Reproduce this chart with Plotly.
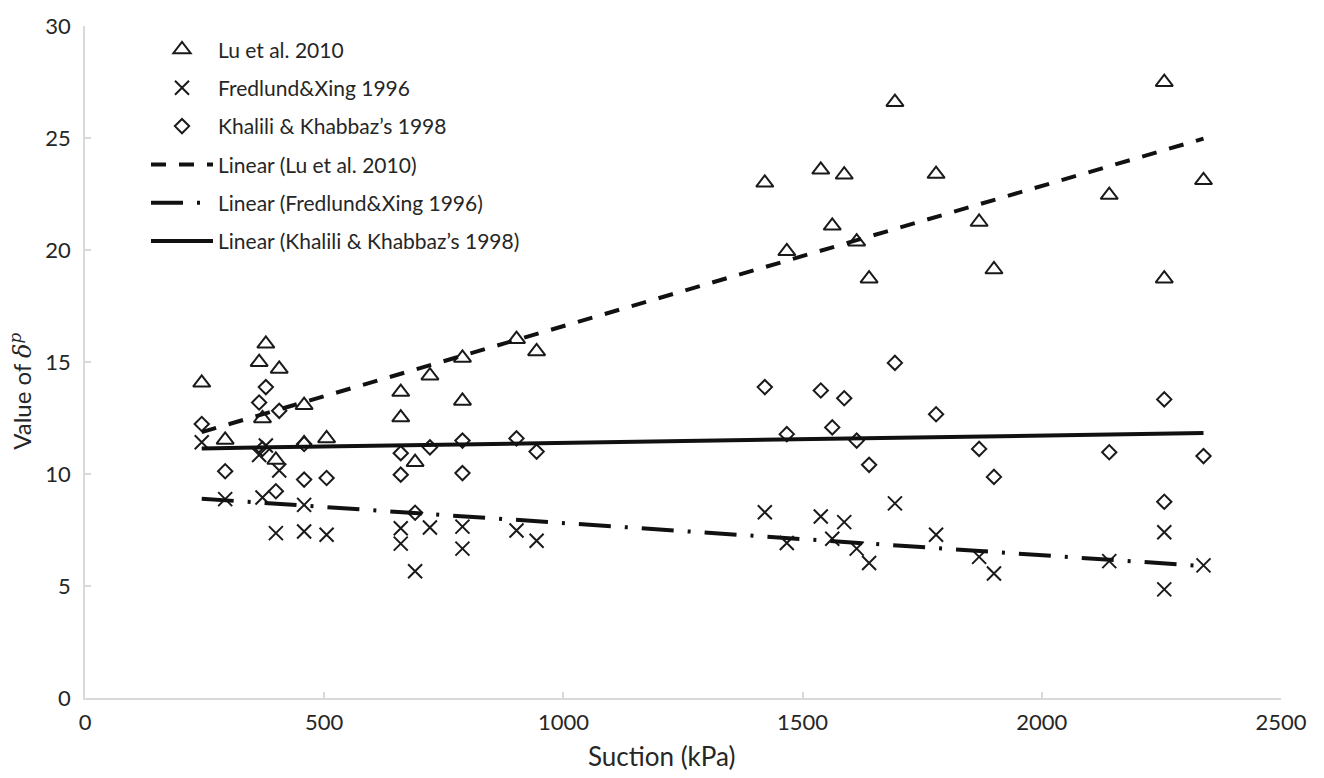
import numpy as np
import plotly.graph_objects as go

# Suction values (kPa), shared by the three series
suction = [244, 293, 364, 371, 378, 399, 406, 458, 458, 505, 660, 660, 690, 721,
           789, 789, 902, 944, 1421, 1467, 1538, 1562, 1587, 1613, 1639, 1693,
           1779, 1869, 1900, 2141, 2256, 2256, 2338]

lu_2010 = [14.07, 11.52, 14.99, 12.48, 15.81, 10.63, 14.69, 13.07, 11.37, 11.59,
           13.66, 12.52, 10.53, 14.39, 15.18, 13.26, 16.02, 15.47, 23.00, 19.94,
           23.58, 21.08, 23.36, 20.37, 18.72, 26.60, 23.39, 21.25, 19.13, 22.45,
           27.49, 18.72, 23.11]

fredlund_1996 = [11.42, 8.88, 10.85, 8.95, 11.27, 7.36, 10.16, 8.62, 7.43, 7.29,
                 7.58, 6.89, 5.66, 7.61, 7.65, 6.67, 7.48, 7.02, 8.29, 6.92,
                 8.10, 7.11, 7.85, 6.67, 6.03, 8.69, 7.29, 6.30, 5.56, 6.11,
                 7.40, 4.85, 5.92]

khalili_1998 = [12.23, 10.12, 13.19, 11.12, 13.88, 9.23, 12.82, 11.34, 9.75, 9.82,
                10.93, 9.97, 8.27, 11.19, 11.49, 10.04, 11.59, 11.00, 13.88, 11.78,
                13.73, 12.08, 13.38, 11.49, 10.41, 14.96, 12.67, 11.12, 9.87, 10.97,
                13.33, 8.76, 10.80]

names = ["Lu et al. 2010", "Fredlund&Xing 1996", "Khalili & Khabbaz\u2019s 1998"]
x_ticks = [0, 500, 1000, 1500, 2000, 2500]
y_ticks = [0, 5, 10, 15, 20, 25, 30]
x_title = "Suction (kPa)"
y_title = "Value of <span style=\"font-family:DejaVu Serif\"><i>\u03b4</i><sup><i>p</i></sup></span>"

FONT = "Lato"
TXT = "#262626"
fig = go.Figure()

symbols = ["triangle-up-open", "x-thin-open", "diamond-open"]
sizes = [15, 14, 11]
series = [lu_2010, fredlund_1996, khalili_1998]
for i, (nm, ys) in enumerate(zip(names, series)):
    fig.add_trace(go.Scatter(
        x=suction, y=ys, mode="markers", name=nm, legendgroup=f"g{i}",
        marker=dict(symbol=symbols[i], size=sizes[i], color="#1a1a1a",
                    line=dict(width=2, color="#1a1a1a"))))

dashes = ["15px,13px", "32px,14px,3px,14px", "solid"]
xs = np.array(suction, dtype=float)
xe = np.array([xs.min(), xs.max()])
for i, (nm, ys) in enumerate(zip(names, series)):
    k, b = np.polyfit(xs, np.array(ys, dtype=float), 1)
    fig.add_trace(go.Scatter(
        x=xe, y=k * xe + b, mode="lines", name=f"Linear ({nm})",
        legendgroup=f"g{i+3}",
        line=dict(color="#111111", width=4, dash=dashes[i])))

axis_common = dict(showgrid=False, zeroline=False, showline=True,
                   linecolor="#d9d9d9", linewidth=1.5, ticks="inside",
                   tickcolor="#d9d9d9", ticklen=6, tickwidth=1.5,
                   tickfont=dict(family=FONT, size=22, color=TXT))

fig.update_layout(
    width=1324, height=778,
    margin=dict(l=85, r=43, t=20, b=80),
    paper_bgcolor="white", plot_bgcolor="white",
    font=dict(family=FONT, color=TXT),
    xaxis=dict(range=[0, 2500], tickvals=x_ticks, ticklabelstandoff=4, **axis_common),
    yaxis=dict(range=[0, 30], tickvals=y_ticks, ticklabelstandoff=8, **axis_common),
    legend=dict(x=0.051, y=0.995, xanchor="left", yanchor="top",
                bgcolor="rgba(0,0,0,0)", traceorder="grouped", tracegroupgap=8,
                font=dict(family=FONT, size=21, color=TXT), itemwidth=62),
    showlegend=True,
    annotations=[
        dict(text=x_title, xref="paper", yref="paper", x=0.4824, y=-0.087,
             xanchor="center", yanchor="middle", showarrow=False,
             font=dict(family=FONT, size=26, color=TXT)),
        dict(text=y_title, xref="paper", yref="paper", x=-0.0535, y=0.4558,
             xanchor="center", yanchor="middle", showarrow=False, textangle=-90,
             font=dict(family=FONT, size=24, color=TXT)),
    ],
)

fig.write_html("out.html")
